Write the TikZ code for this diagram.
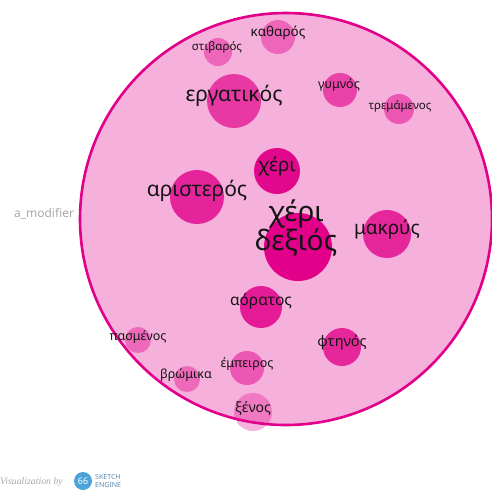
\documentclass[tikz,border=0pt]{standalone}
\usepackage{fontspec}
\setmainfont{Noto Sans}
\newfontfamily\vizfont{Liberation Serif}
\definecolor{ringpink}{HTML}{E2008A}
\definecolor{areapink}{HTML}{F5B0DB}
\definecolor{wordgray}{HTML}{141414}
\definecolor{sidegray}{HTML}{A8A8A8}
\definecolor{seblue}{HTML}{4BA3D9}
\definecolor{setext}{HTML}{5F8DB0}
\begin{document}
\begin{tikzpicture}[x=1pt, y=-1pt,
    bubble/.style={circle, fill=ringpink, draw=none, inner sep=0pt},
    word/.style={text=wordgray, inner sep=0pt}]
    \useasboundingbox (0, 0) rectangle (492, 491);

    % 外圈
    \draw[line width=2.6pt, ringpink, fill=areapink] (286, 219) circle (206);
    \node[sidegray, font=\bfseries\fontsize{12}{14}\selectfont] (amod) at (44, 214) {a\_modifier};

    % 气泡
    \node[bubble, minimum size=68, fill opacity=1.00] (bDexios) at (298, 247) {};
    \node[bubble, minimum size=46, fill opacity=0.95] (bCheri) at (277, 171) {};
    \node[bubble, minimum size=54, fill opacity=0.80] (bAristeros) at (197, 197) {};
    \node[bubble, minimum size=48, fill opacity=0.78] (bMakrys) at (387, 234) {};
    \node[bubble, minimum size=54, fill opacity=0.68] (bErgatikos) at (234, 101) {};
    \node[bubble, minimum size=42, fill opacity=0.85] (bAoratos) at (261, 307) {};
    \node[bubble, minimum size=38, fill opacity=0.78] (bFtinos) at (342, 347) {};
    \node[bubble, minimum size=34, fill opacity=0.62] (bGymnos) at (340, 90) {};
    \node[bubble, minimum size=30, fill opacity=0.50] (bTremamenos) at (399, 109) {};
    \node[bubble, minimum size=34, fill opacity=0.42] (bKatharos) at (278, 37) {};
    \node[bubble, minimum size=28, fill opacity=0.42] (bStivaros) at (218, 52) {};
    \node[bubble, minimum size=34, fill opacity=0.50] (bEmpeiros) at (247, 368) {};
    \node[bubble, minimum size=26, fill opacity=0.40] (bPasmenos) at (138, 340) {};
    \node[bubble, minimum size=26, fill opacity=0.40] (bVromika) at (187, 379) {};
    \node[bubble, minimum size=38, fill opacity=0.30] (bXenos) at (253, 412) {};

    % 词
    \node[word, font=\fontsize{28}{24}\selectfont, align=center] (tDexios) at (296, 228) {χέρι\\δεξιός};
    \node[word, font=\fontsize{19}{20}\selectfont] (tCheri) at (277, 166) {χέρι};
    \node[word, font=\fontsize{21}{22}\selectfont] (tAristeros) at (197, 191) {αριστερός};
    \node[word, font=\fontsize{19}{20}\selectfont] (tMakrys) at (387, 229) {μακρύς};
    \node[word, font=\fontsize{21}{22}\selectfont] (tErgatikos) at (234, 96) {εργατικός};
    \node[word, font=\fontsize{15.5}{17}\selectfont] (tAoratos) at (261, 301) {αόρατος};
    \node[word, font=\fontsize{14.5}{16}\selectfont] (tFtinos) at (342, 343) {φτηνός};
    \node[word, font=\fontsize{12.5}{14}\selectfont] (tGymnos) at (339, 85) {γυμνός};
    \node[word, font=\fontsize{11.5}{13}\selectfont] (tTremamenos) at (400, 106) {τρεμάμενος};
    \node[word, font=\fontsize{13.5}{15}\selectfont] (tKatharos) at (278, 33) {καθαρός};
    \node[word, font=\fontsize{11.5}{13}\selectfont] (tStivaros) at (217, 47) {στιβαρός};
    \node[word, font=\fontsize{12.5}{14}\selectfont] (tEmpeiros) at (247, 364) {έμπειρος};
    \node[word, font=\fontsize{12.5}{14}\selectfont] (tPasmenos) at (138, 337) {πασμένος};
    \node[word, font=\fontsize{12.5}{14}\selectfont] (tVromika) at (186, 375) {βρώμικα};
    \node[word, font=\fontsize{14}{15}\selectfont] (tXenos) at (253, 408) {ξένος};

    % 标注
    \node[sidegray, anchor=east, inner sep=0pt, font=\vizfont\itshape\fontsize{9.8}{12}\selectfont] (vizby) at (63, 482) {Visualization by};
    \node[circle, fill=seblue, minimum size=18, inner sep=0pt] (seLogo) at (83, 481) {};
    \node[white, inner sep=0pt, font=\bfseries\fontsize{9}{9}\selectfont] (seQuote) at (seLogo) {66};
    \node[setext, anchor=west, inner sep=0pt, align=left, font=\bfseries\fontsize{7}{7.5}\selectfont] (seName) at (95, 481) {SKETCH\\ENGINE};
\end{tikzpicture}
\end{document}
